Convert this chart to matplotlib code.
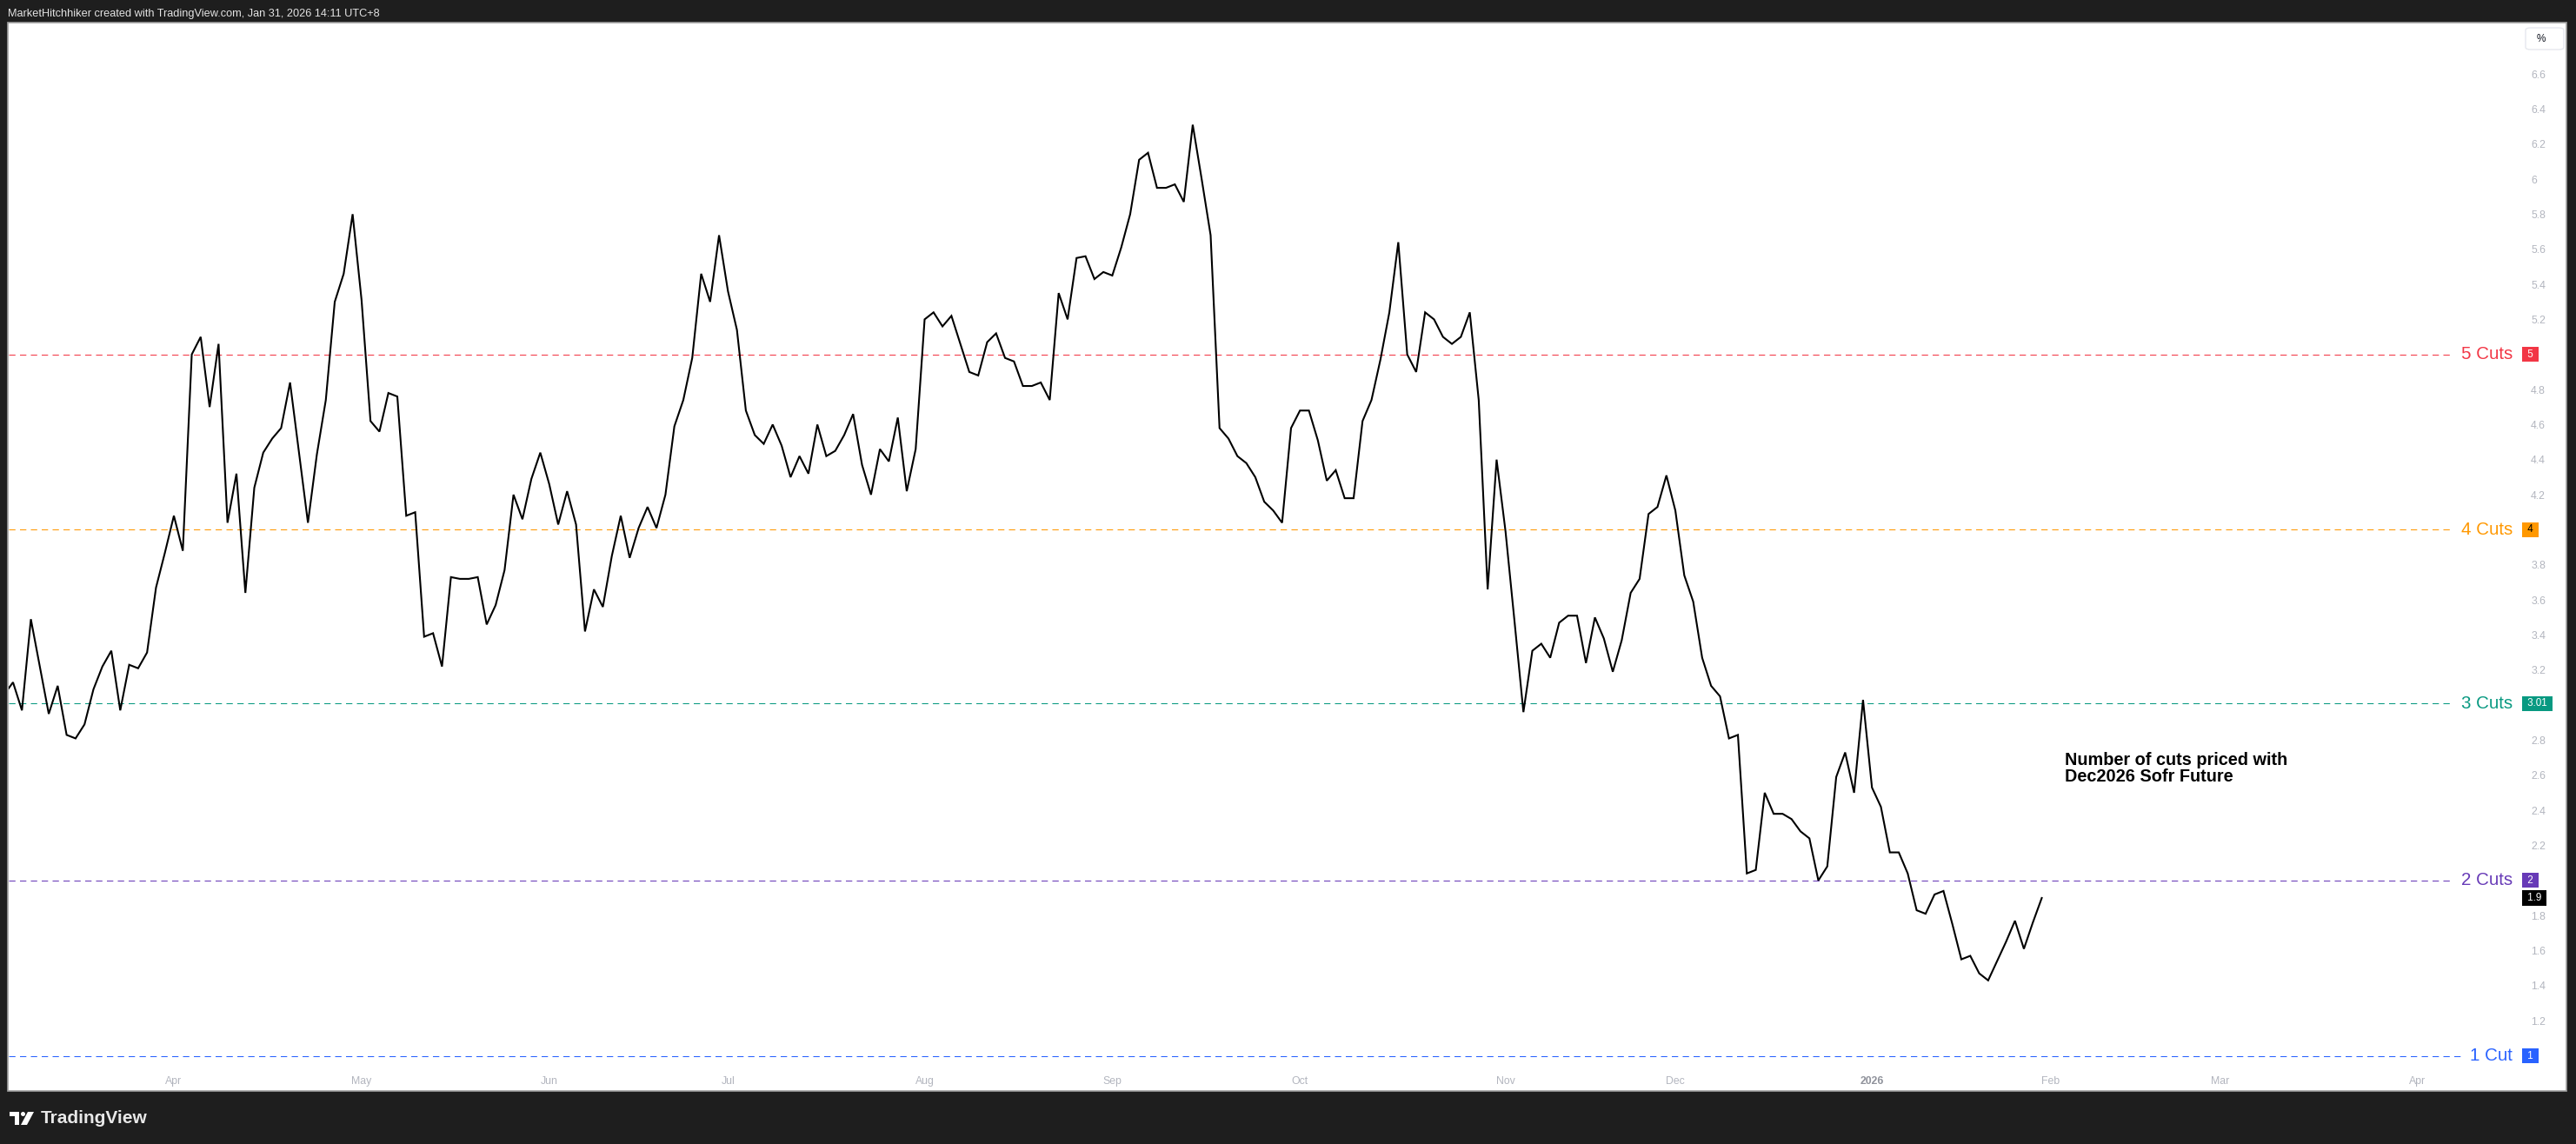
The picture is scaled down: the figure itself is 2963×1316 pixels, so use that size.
import matplotlib
matplotlib.use("Agg")
import matplotlib.pyplot as plt
import matplotlib.transforms as mtransforms
from matplotlib.patches import Rectangle, Polygon, Ellipse, FancyBboxPatch
import pandas as pd

plt.rcParams['font.family'] = ['Liberation Sans', 'DejaVu Sans']

# number of cuts priced, daily closes from 5 Mar 2025 to 30 Jan 2026
cuts = [
    3.06,
    3.13, 2.97, 3.49, 3.22, 2.95, 3.11, 2.83, 2.81, 2.89, 3.09,
    3.22, 3.31, 2.97, 3.23, 3.21, 3.30, 3.67, 3.87, 4.08, 3.88,
    5.00, 5.10, 4.70, 5.06, 4.04, 4.32, 3.64, 4.24, 4.44, 4.52,
    4.58, 4.84, 4.44, 4.04, 4.43, 4.74, 5.30, 5.46, 5.80, 5.31,
    4.62, 4.56, 4.78, 4.76, 4.08, 4.10, 3.39, 3.41, 3.22, 3.73,
    3.72, 3.72, 3.73, 3.46, 3.57, 3.77, 4.20, 4.06, 4.29,
    4.44, 4.26, 4.03, 4.22, 4.03, 3.42, 3.66, 3.56, 3.85, 4.08,
    3.84, 4.01, 4.13, 4.01, 4.20, 4.59, 4.74, 4.98, 5.46, 5.30,
    5.68, 5.36, 5.14, 4.68, 4.54, 4.49, 4.60, 4.48, 4.30, 4.42,
    4.32, 4.60, 4.42, 4.45, 4.54, 4.66, 4.37, 4.20, 4.46, 4.39,
    4.64, 4.22, 4.46, 5.20, 5.24, 5.16, 5.22, 5.06, 4.90, 4.88,
    5.07, 5.12, 4.98, 4.96, 4.82, 4.82, 4.84, 4.74, 5.35,
    5.20, 5.55, 5.56, 5.43, 5.47, 5.45, 5.61, 5.80, 6.11, 6.15,
    5.95, 5.95, 5.97, 5.87, 6.31, 6.00, 5.68, 4.58, 4.52, 4.42,
    4.38, 4.30, 4.16, 4.11, 4.04, 4.58, 4.68, 4.68, 4.51, 4.28,
    4.34, 4.18, 4.18, 4.62, 4.74, 4.97, 5.24, 5.64, 5.00, 4.90,
    5.24, 5.20, 5.10, 5.06, 5.10, 5.24, 4.74, 3.66, 4.40, 3.99,
    3.48, 2.96, 3.31, 3.35, 3.27, 3.47, 3.51, 3.51,
    3.24, 3.50, 3.38, 3.19, 3.37, 3.64, 3.72, 4.09, 4.13, 4.31,
    4.11, 3.74, 3.59, 3.27, 3.11, 3.05, 2.81, 2.83, 2.04, 2.06,
    2.50, 2.38, 2.38, 2.35, 2.28, 2.24, 2.00, 2.08, 2.59, 2.73,
    2.50, 3.03, 2.53, 2.42, 2.16, 2.16, 2.04, 1.83, 1.81, 1.92,
    1.94, 1.75, 1.55, 1.57, 1.47, 1.43, 1.54, 1.65, 1.77, 1.61,
    1.76, 1.90,
]

holidays = ['2025-04-18', '2025-05-26', '2025-06-19', '2025-07-04', '2025-09-01',
            '2025-11-27', '2025-12-25', '2026-01-01', '2026-01-19', '2026-02-16',
            '2026-04-03']

levels = [5.0, 4.0, 3.01, 2.0, 1.0]
level_names = ['5 Cuts', '4 Cuts', '3 Cuts', '2 Cuts', '1 Cut']
level_tags = ['5', '4', '3.01', '2', '1']
level_colors = ['#f23645', '#ff9800', '#089981', '#673ab7', '#2962ff']
tag_text_colors = ['white', 'black', 'white', 'white', 'white']

yticks = [6.6, 6.4, 6.2, 6.0, 5.8, 5.6, 5.4, 5.2, 4.8, 4.6, 4.4, 4.2,
          3.8, 3.6, 3.4, 3.2, 2.8, 2.6, 2.4, 2.2, 1.8, 1.6, 1.4, 1.2]

note = "Number of cuts priced with\nDec2026 Sofr Future"
header = "MarketHitchhiker created with TradingView.com, Jan 31, 2026 14:11 UTC+8"

# trading-day calendar (bars) incl. the empty future part of the time scale
days = pd.bdate_range('2025-03-05', '2026-04-30', freq='C', holidays=holidays)
xs = list(range(len(cuts)))

tick_pos, tick_lab = [], []
for i in range(1, len(days)):
    if days[i].month != days[i - 1].month:
        tick_pos.append(i)
        tick_lab.append(str(days[i].year) if days[i].month == 1 else days[i].strftime('%b'))

W, H = 2963, 1316
fig = plt.figure(figsize=(W / 100, H / 100), dpi=100)
fig.patch.set_facecolor('#1e1e1e')


def fx(x):
    return x / W


def fy(y):
    return 1 - y / H


# white chart panel
fig.add_artist(Rectangle((fx(9), fy(1255)), (2952 - 9) / W, (1255 - 26) / H,
                         transform=fig.transFigure, facecolor='white',
                         edgecolor='#a0a0a0', lw=1.2, zorder=0))

ax = fig.add_axes([fx(10), fy(1228), 2890 / W, (1228 - 26) / H])
ax.set_facecolor('none')
for s in ax.spines.values():
    s.set_visible(False)

px_per_bar = 10.28
x_left = 19 + (10 - 200) / px_per_bar
x_right = 19 + (2900 - 200) / px_per_bar
ax.set_xlim(x_left, x_right)
ax.set_ylim(6.6 - (1228 - 85) / 201.7, 6.6 + (85 - 26) / 201.7)

ax.plot(xs, cuts, color='black', lw=1.5, solid_joinstyle='miter', zorder=5)

ax.set_xticks(tick_pos)
ax.set_xticklabels(tick_lab)
ax.tick_params(axis='x', length=0, pad=7, labelsize=8.8, labelcolor='#b2b5be')
for t in ax.get_xticklabels():
    if t.get_text().isdigit():
        t.set_fontweight('bold')
        t.set_color('#8f929b')

ax.yaxis.tick_right()
ax.set_yticks(yticks)
ax.set_yticklabels(['%g' % v for v in yticks])
ax.tick_params(axis='y', length=0, pad=8, labelsize=8.8, labelcolor='#b2b5be')

blend = mtransforms.blended_transform_factory(ax.transAxes, ax.transData)
renderer = fig.canvas.get_renderer()
for v, name, tag, c, tc in zip(levels, level_names, level_tags, level_colors, tag_text_colors):
    t = ax.text((2890 - 10) / 2890, v, name, transform=blend, ha='right', va='center',
                fontsize=14.8, color=c)
    bb = t.get_window_extent(renderer=renderer)
    x_end = ax.transData.inverted().transform((bb.x0 - 9, 0))[0]
    ax.plot([x_left, x_end], [v, v], color=c, lw=0.75, ls=(0, (7, 5)), zorder=3)
    ax.text((2904 - 10) / 2890, v, ' ' + tag + ' ', transform=blend, ha='left', va='center',
            fontsize=8.4, color=tc, clip_on=False,
            bbox=dict(boxstyle='square,pad=0.22', facecolor=c, edgecolor='none'))

# last value tag
ax.text((2904 - 10) / 2890, cuts[-1], ' %g ' % cuts[-1], transform=blend, ha='left', va='center',
        fontsize=8.4, color='white', clip_on=False,
        bbox=dict(boxstyle='square,pad=0.22', facecolor='black', edgecolor='none'))

ax.text(19 + (2375 - 200) / px_per_bar, 2.64, note, ha='left', va='center',
        fontsize=14.3, fontweight='bold', color='black', linespacing=0.98)

# price scale unit box
fig.add_artist(FancyBboxPatch((fx(2905), fy(57)), 44 / W, 25 / H,
                              boxstyle='round,pad=0,rounding_size=0.002',
                              transform=fig.transFigure, facecolor='white',
                              edgecolor='#e6e8ee', lw=1))
fig.text(fx(2918), fy(44.5), '%', ha='left', va='center', fontsize=8.5, color='#131722')

fig.text(fx(9), fy(16.5), header, ha='left', va='center', fontsize=9.2, color='#e3e3e3')

# TradingView logo
fig.add_artist(Polygon([(fx(11), fy(1279)), (fx(22), fy(1279)), (fx(22), fy(1294)),
                        (fx(17), fy(1294)), (fx(17), fy(1284)), (fx(11), fy(1284))],
                       closed=True, transform=fig.transFigure, facecolor='white', edgecolor='none'))
fig.add_artist(Ellipse((fx(26.5), fy(1281.5)), 5 / W, 5 / H, transform=fig.transFigure,
                       facecolor='white', edgecolor='none'))
fig.add_artist(Polygon([(fx(32), fy(1279)), (fx(39), fy(1279)), (fx(31), fy(1294)),
                        (fx(24), fy(1294))],
                       closed=True, transform=fig.transFigure, facecolor='white', edgecolor='none'))
fig.text(fx(47), fy(1287), 'TradingView', ha='left', va='center', fontsize=15,
         fontweight='bold', color='#e8e8e8')

fig.savefig('out.png', dpi=100, facecolor=fig.get_facecolor())
